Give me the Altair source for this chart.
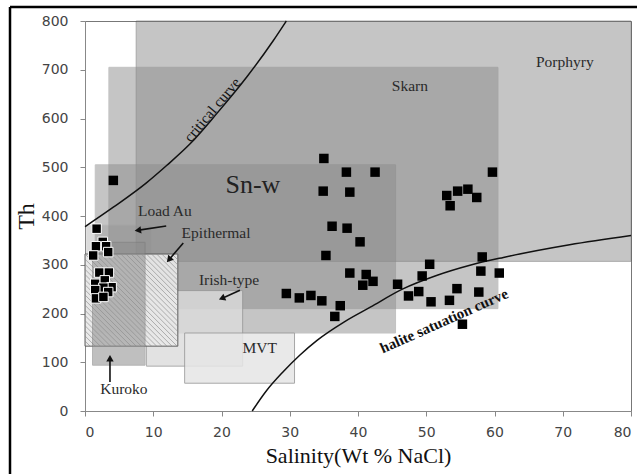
import altair as alt
import pandas as pd

# ---------------- data ----------------
# fluid-inclusion fields (salinity range, Th range)
box_names = ["Porphyry", "Skarn", "Sn-W", "Lode Au", "Irish-type", "MVT", "Epithermal"]
box_x1 = [7.5, 3.5, 1.5, 0.2, 9.0, 14.6, 0.0]
box_x2 = [80.0, 60.5, 45.5, 9.7, 23.1, 30.7, 13.6]
box_y1 = [307, 210, 160, 200, 92, 57, 133]
box_y2 = [800, 705, 505, 381, 247, 160, 322]
box_fill = ["#8c8c8c", "#8c8c8c", "#8c8c8c", "#8c8c8c", "#dcdcdc", "#e6e6e6", "#e9e9e9"]
box_op = [0.5, 0.5, 0.5, 0.3, 0.8, 0.85, 0.92]
box_stroke = ["#555555", "#888888", "#888888", "#999999", "#999999", "#999999", "#555555"]

kuroko_x = [1.1, 8.8]
kuroko_y = [94, 346]

# measured inclusions
a_x = [1.7, 2.6, 1.6, 3.1, 3.4, 1.2, 2.1, 3.5, 1.5, 2.9, 3.9, 2.7, 1.5, 3.4, 1.6, 2.7]
a_y = [374, 347, 338, 338, 326, 319, 284, 284, 261, 268, 254, 253, 248, 244, 231, 234]
b_x = [35.0, 38.3, 42.5, 34.9, 38.8, 36.2, 38.4, 40.3, 35.3, 38.8, 41.2, 42.2, 40.7, 45.8,
       29.5, 31.4, 33.1, 34.7, 37.4, 36.6, 59.7, 53.0, 54.6, 56.1, 57.4, 53.5, 58.2, 50.5,
       58.0, 60.7, 49.4, 48.9, 47.4, 54.5, 57.7, 50.7, 53.4, 55.3, 4.15]
b_y = [518, 490, 490, 451, 449, 379, 375, 347, 319, 283, 280, 266, 258, 260,
       241, 232, 237, 226, 216, 194, 490, 442, 451, 455, 438, 421, 316, 301,
       287, 283, 277, 245, 236, 251, 244, 224, 227, 178, 473]

# curves
crit_x = [0, 4.15, 9, 12, 15.4, 19.3, 23.7, 27.6, 29.5]
crit_y = [378, 418, 468, 504, 548, 610, 685, 760, 800]
hal_x = [24.5, 26.5, 29, 31.5, 34, 38, 41.8, 46.5, 51.5, 56.4, 61.3, 71, 80]
hal_y = [0, 40, 80, 115, 145, 183, 213, 250, 278, 299, 315, 341, 360]

# labels
lab_text = ["Porphyry", "Skarn", "Load Au", "Epithermal", "Irish-type", "MVT", "Kuroko"]
lab_x = [70.3, 47.6, 11.7, 19.2, 21.1, 25.6, 5.7]
lab_y = [715, 666, 411, 366, 268, 130, 45]

# arrows (tail -> head)
arr_x1 = [11.9, 14.4, 22.7, 3.66]
arr_y1 = [379.5, 344.6, 247.6, 59.5]
arr_x2 = [7.9, 12.4, 20.2, 3.66]
arr_y2 = [371, 312, 232, 106]
arr_ang = [262, 221, 247, 0]

# ---------------- tables ----------------
boxes = pd.DataFrame(dict(name=box_names, x=box_x1, x2=box_x2, y=box_y1, y2=box_y2,
                          fill=box_fill, op=box_op, stroke=box_stroke))
kuro = pd.DataFrame(dict(x=[kuroko_x[0]], x2=[kuroko_x[1]], y=[kuroko_y[0]], y2=[kuroko_y[1]]))

# hatch for epithermal box
ep = boxes[boxes.name == "Epithermal"].iloc[0]
hatch_step = 0.75
hatch_slope = 14.0
hs = []
s = ep.x - (ep.y2 - ep.y) / hatch_slope
while s < ep.x2:
    xa = max(s, ep.x)
    xb = min(s + (ep.y2 - ep.y) / hatch_slope, ep.x2)
    if xb > xa:
        hs.append(dict(x=xa, y=ep.y2 - hatch_slope * (xa - s),
                       x2=xb, y2=ep.y2 - hatch_slope * (xb - s)))
    s += hatch_step
hatch = pd.DataFrame(hs)

ptsA = pd.DataFrame(dict(x=a_x, y=a_y))
ptsB = pd.DataFrame(dict(x=b_x, y=b_y))
crit = pd.DataFrame(dict(x=crit_x, y=crit_y))
hal = pd.DataFrame(dict(x=hal_x, y=hal_y))
labs = pd.DataFrame(dict(t=lab_text, x=lab_x, y=lab_y))
arrows = pd.DataFrame(dict(x=arr_x1, y=arr_y1, x2=arr_x2, y2=arr_y2, ang=arr_ang))

SERIF = "Liberation Serif"

xsc = alt.Scale(domain=[0, 80], nice=False, zero=False)
ysc = alt.Scale(domain=[0, 800], nice=False, zero=False)

xax = alt.Axis(values=list(range(0, 81, 10)), grid=False, tickSize=5, labelPadding=9,
               labelFont="DejaVu Sans", labelFontSize=14, labelColor="#444444",
               domainColor="#888888", tickColor="#888888",
               title="Salinity(Wt % NaCl)", titleFont=SERIF, titleFontSize=22,
               titleFontWeight="normal", titleColor="#111111",
               titleX=273, titleY=44, titleAlign="center", titleBaseline="middle")
yax = alt.Axis(values=list(range(0, 801, 100)), grid=False, tickSize=5, labelPadding=12,
               labelFont="DejaVu Sans", labelFontSize=14, labelColor="#444444",
               domainColor="#888888", tickColor="#888888",
               title="Th", titleFont=SERIF, titleFontSize=24, titleFontWeight="normal",
               titleColor="#111111", titleX=-59, titleY=195, titleAngle=270,
               titleAlign="center", titleBaseline="middle")

rects = alt.Chart(boxes).mark_rect(strokeWidth=1).encode(
    x=alt.X("x:Q", scale=xsc, axis=xax), x2="x2:Q",
    y=alt.Y("y:Q", scale=ysc, axis=yax), y2="y2:Q",
    color=alt.Color("fill:N", scale=None),
    stroke=alt.Stroke("stroke:N", scale=None),
    opacity=alt.Opacity("op:Q", scale=None),
)

hatch_l = alt.Chart(hatch).mark_rule(color="#8a8a8a", strokeWidth=0.8, opacity=0.8).encode(
    x="x:Q", y="y:Q", x2="x2:Q", y2="y2:Q")

kuro_l = alt.Chart(kuro).mark_rect(color="#8c8c8c", opacity=0.55, stroke="#777777",
                                   strokeWidth=1).encode(
    x="x:Q", x2="x2:Q", y="y:Q", y2="y2:Q")

crit_l = alt.Chart(crit).mark_line(color="#111111", strokeWidth=1.5, interpolate="monotone").encode(
    x="x:Q", y="y:Q")
hal_l = alt.Chart(hal).mark_line(color="#111111", strokeWidth=1.5, interpolate="monotone").encode(
    x="x:Q", y="y:Q")

ptA = alt.Chart(ptsA).mark_point(shape="square", filled=True, size=90, color="black",
                                 stroke="white", strokeWidth=1, opacity=1).encode(
    x="x:Q", y="y:Q")
ptB = alt.Chart(ptsB).mark_point(shape="square", filled=True, size=90, color="black",
                                 opacity=1).encode(x="x:Q", y="y:Q")

labels = alt.Chart(labs).mark_text(font=SERIF, fontSize=15.5, color="#2a2a2a").encode(
    x="x:Q", y="y:Q", text="t:N")
snw = alt.Chart(pd.DataFrame(dict(t=["Sn-w"], x=[24.6], y=[463]))).mark_text(
    font=SERIF, fontSize=26, color="#222222").encode(x="x:Q", y="y:Q", text="t:N")
crit_t = alt.Chart(pd.DataFrame(dict(t=["critical curve"], x=[19.3], y=[610]))).mark_text(
    font=SERIF, fontSize=15, color="#111111", angle=310, baseline="alphabetic", dy=-1).encode(
    x="x:Q", y="y:Q", text="t:N")
hal_t = alt.Chart(pd.DataFrame(dict(t=["halite satuation curve"], x=[52.6], y=[185]))).mark_text(
    font=SERIF, fontSize=15, fontWeight="bold", color="#111111", angle=336,
    baseline="middle").encode(x="x:Q", y="y:Q", text="t:N")

shafts = alt.Chart(arrows).mark_rule(color="#111111", strokeWidth=1.6).encode(
    x="x:Q", y="y:Q", x2="x2:Q", y2="y2:Q")
heads = alt.Chart(arrows).mark_point(shape="triangle", filled=True, size=55, color="#111111",
                                     opacity=1).encode(
    x="x2:Q", y="y2:Q", angle=alt.Angle("ang:Q", scale=None))

frame_l = alt.Chart(pd.DataFrame(dict(k=[0]))).mark_rule(color="black", strokeWidth=2.5).encode(
    x=alt.value(-75), y=alt.value(-14), y2=alt.value(460))
frame_t = alt.Chart(pd.DataFrame(dict(k=[0]))).mark_rule(color="black", strokeWidth=2.5).encode(
    x=alt.value(-75), x2=alt.value(560), y=alt.value(-14))

chart = alt.layer(rects, hatch_l, kuro_l, crit_l, hal_l, ptA, ptB, labels, snw, crit_t, hal_t,
                  shafts, heads, frame_l, frame_t).properties(
    width=546, height=390,
    autosize=alt.AutoSizeParams(type="none"),
    padding={"left": 85, "top": 21, "right": 6, "bottom": 63},
    background="white",
).configure_view(stroke="#777777", strokeWidth=1)

chart.save("out.html", embed_options={"renderer": "svg", "actions": False})
